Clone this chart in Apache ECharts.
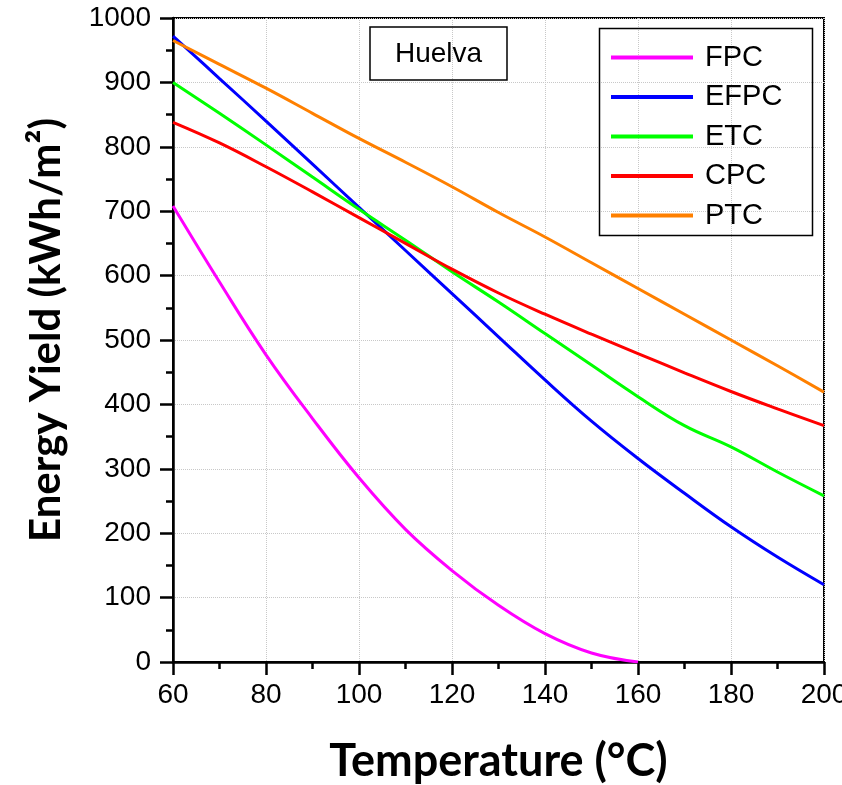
<!DOCTYPE html>
<html>
<head>
<meta charset="utf-8">
<script src="https://cdn.jsdelivr.net/npm/echarts@6/dist/echarts.min.js"></script>
<style>
  html, body { margin: 0; padding: 0; background: #fff; }
  #chart { width: 842px; height: 785px; }
</style>
</head>
<body>
<div id="chart"></div>
<script>
  // temperatures (°C)
  var temps = [60, 70, 80, 90, 100, 110, 120, 130, 140, 150, 160, 170, 180, 190, 200];
  // energy yield (kWh/m2)
  var fpc  = [708, 590, 477, 378, 286, 206, 142, 88, 44, 14, 0, null, null, null, null];
  var efpc = [972, 906, 840, 773, 706, 639, 572, 505, 438, 374, 316, 262, 210, 163, 120];
  var etc  = [900, 852, 803, 753, 703, 655, 606, 559, 510, 461, 412, 367, 334, 295, 258];
  var cpc  = [838, 806, 769, 730, 690, 650, 610, 573, 540, 509, 479, 449, 420, 393, 367];
  var ptc  = [965, 928, 891, 852, 813, 776, 738, 698, 660, 620, 580, 540, 500, 460, 419];
  var names = ['FPC', 'EFPC', 'ETC', 'CPC', 'PTC'];
  var colors = ['#ff00ff', '#0000ff', '#00ff00', '#ff0000', '#ff8000'];

  var chart = echarts.init(document.getElementById('chart'));

  function pairs(vals) {
    var out = [];
    for (var i = 0; i < temps.length; i++) {
      if (vals[i] != null) out.push([temps[i], vals[i]]);
    }
    return out;
  }

  var allData = [fpc, efpc, etc, cpc, ptc];
  var series = [];
  for (var k = 0; k < names.length; k++) {
    series.push({
      name: names[k],
      type: 'line',
      smooth: 0.4,
      showSymbol: false,
      data: pairs(allData[k]),
      lineStyle: { width: 3, color: colors[k] },
      itemStyle: { color: colors[k] }
    });
  }

  var font = '"Liberation Sans", Arial, sans-serif';

  var option = {
    backgroundColor: '#fff',
    animation: false,
    title: {
      text: 'Huelva',
      left: 370,
      top: 27,
      padding: [13, 25, 12, 25],
      borderColor: '#000',
      borderWidth: 1.5,
      textStyle: { fontFamily: font, fontSize: 28, fontWeight: 'normal', color: '#000' }
    },
    graphic: [{
      type: 'rect',
      left: 597,
      top: 26,
      shape: { width: 213, height: 207 },
      style: { fill: 'none', stroke: '#000', lineWidth: 1.5 },
      z: 10
    }],
    legend: {
      orient: 'vertical',
      left: 611,
      top: 43,
      padding: 0,
      itemGap: 10.5,
      itemWidth: 82,
      itemHeight: 4,
      icon: 'rect',
      data: names,
      textStyle: { fontFamily: font, fontSize: 29, color: '#000', padding: [0, 0, 0, 7] }
    },
    grid: {
      left: 173,
      right: 18,
      top: 18,
      bottom: 123,
      outerBoundsMode: 'none',
      containLabel: false,
      show: true,
      borderColor: '#000',
      borderWidth: 2
    },
    xAxis: {
      type: 'value',
      min: 60,
      max: 200,
      interval: 20,
      name: 'Temperature (°C)',
      nameLocation: 'middle',
      nameGap: 77,
      nameTextStyle: { fontFamily: 'Lato, sans-serif', fontWeight: 'bold', fontSize: 45, color: '#000' },
      axisLine: { onZero: false, lineStyle: { color: '#000', width: 2.5 } },
      axisTick: { inside: false, length: 13, lineStyle: { width: 2.5, color: '#000' } },
      minorTick: { show: true, splitNumber: 2, length: 7, lineStyle: { width: 2.5, color: '#000' } },
      axisLabel: { margin: 19, fontFamily: font, fontSize: 28, color: '#000', formatter: function (v) { return String(v); } },
      splitLine: { show: true, lineStyle: { color: '#c8c8c8', type: 'dotted', width: 1 } }
    },
    yAxis: {
      type: 'value',
      min: 0,
      max: 1000,
      interval: 100,
      name: 'Energy Yield (kWh/m²)',
      nameLocation: 'middle',
      nameGap: 106,
      nameTextStyle: { fontFamily: 'Lato, sans-serif', fontWeight: 'bold', fontSize: 42, color: '#000', padding: [0, 0, 0, 20] },
      axisLine: { show: true, lineStyle: { color: '#000', width: 2.5 } },
      axisTick: { inside: false, length: 13, lineStyle: { width: 2.5, color: '#000' } },
      minorTick: { show: true, splitNumber: 2, length: 7, lineStyle: { width: 2.5, color: '#000' } },
      axisLabel: { margin: 22, fontFamily: font, fontSize: 28, color: '#000', formatter: function (v) { return String(v); } },
      splitLine: { show: true, lineStyle: { color: '#c8c8c8', type: 'dotted', width: 1 } }
    },
    series: series
  };

  chart.setOption(option);
</script>
</body>
</html>
